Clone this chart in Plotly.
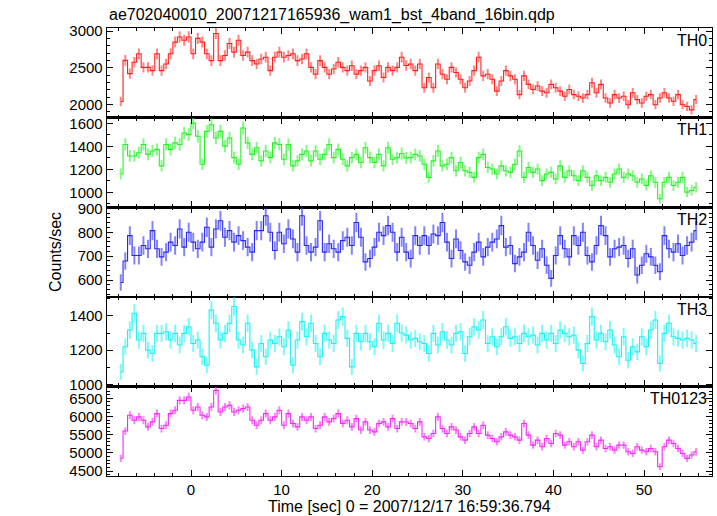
import numpy as np
import plotly.graph_objects as go

# ---- binning (0.5 s bins, time relative to 2007/12/17 16:59:36.794) ----
T_START = -7.75
BIN = 0.5

th0 = [2040, 2600, 2420, 2575, 2690, 2505, 2505, 2460, 2690, 2460,
       2550, 2690, 2850, 2920, 2875, 2920, 2690, 2900, 2850, 2690,
       2597, 2968, 2597, 2667, 2830, 2713, 2875, 2667, 2713, 2597,
       2550, 2620, 2644, 2460, 2644, 2713, 2644, 2667, 2690, 2597,
       2620, 2690, 2505, 2412, 2597, 2505, 2412, 2482, 2574, 2505,
       2460, 2528, 2412, 2460, 2505, 2320, 2460, 2528, 2366, 2505,
       2460, 2505, 2644, 2530,
       2550, 2460, 2550, 2227, 2366, 2227, 2550, 2412, 2343, 2505,
       2435, 2343, 2227, 2320, 2460, 2644, 2389, 2412, 2343, 2181,
       2320, 2460, 2389, 2343, 2134, 2389, 2273, 2204, 2250, 2181,
       2158, 2273, 2227, 2181, 2111, 2204, 2134, 2111, 2088, 2134,
       2296, 2158, 2273, 2088, 2019, 2134, 2088, 2111, 1996, 2158,
       2065, 2019, 2111, 2134, 1996, 2088, 2158, 2088, 2042, 2134,
       1996, 1972, 1926, 2065]

th1 = [1160, 1417, 1317, 1317, 1345, 1417, 1331, 1360, 1374, 1231,
       1417, 1374, 1431, 1417, 1517, 1503, 1603, 1489, 1245, 1531,
       1589, 1474, 1531, 1403, 1474, 1303, 1245, 1560, 1431, 1331,
       1388, 1274, 1360, 1303, 1431, 1417, 1288, 1417, 1231, 1274,
       1331, 1360, 1274, 1360, 1288, 1331, 1417, 1303, 1374, 1288,
       1231, 1303, 1331, 1260, 1388, 1303, 1260, 1331, 1231, 1388,
       1288, 1303, 1338, 1300,
       1303, 1331, 1317, 1245, 1131, 1274, 1360, 1231, 1245, 1303,
       1188, 1260, 1188, 1174, 1131, 1303, 1331, 1217, 1203, 1160,
       1231, 1188, 1174, 1245, 1360, 1131, 1217, 1174, 1203, 1102,
       1160, 1174, 1117, 1231, 1131, 1188, 1145, 1102, 1188, 1131,
       1060, 1145, 1102, 1131, 1088, 1160, 1203, 1131, 1160, 1145,
       1088, 1117, 1060, 1145, 1088, 945, 1088, 1131, 1060, 1088,
       1131, 1002, 1017, 1045]

th2 = [590, 680, 786, 703, 703, 745, 731, 807, 731, 697,
       717, 759, 745, 814, 738, 800, 759, 731, 759, 821,
       738, 814, 848, 779, 807, 759, 786, 765, 738, 717,
       807, 807, 869, 800, 724, 800, 752, 814, 772, 717,
       869, 745, 717, 738, 848, 717, 752, 731, 717, 765,
       779, 745, 841, 779, 676, 690, 738, 800, 786, 828,
       800, 717, 779, 717,
       690, 786, 745, 786, 745, 793, 786, 841, 759, 690,
       772, 724, 676, 662, 717, 759, 697, 738, 759, 772,
       828, 738, 745, 669, 697, 717, 800, 745, 683, 731,
       662, 607, 703, 786, 731, 697, 786, 745, 800, 703,
       676, 745, 828, 786, 697, 731, 738, 745, 690, 731,
       621, 662, 710, 697, 662, 635, 786, 731, 717, 752,
       703, 745, 759, 807]

th3 = [1073, 1220, 1318, 1416, 1259, 1298, 1200, 1180, 1298, 1298,
       1308, 1259, 1298, 1230, 1298, 1337, 1239, 1259, 1161, 1112,
       1435, 1357, 1259, 1298, 1357, 1455, 1259, 1230, 1357, 1200,
       1102, 1239, 1161, 1259, 1239, 1278, 1220, 1318, 1112, 1259,
       1367, 1278, 1357, 1239, 1161, 1298, 1259, 1239, 1376, 1396,
       1269, 1102, 1298, 1249, 1298, 1249, 1220, 1357, 1259, 1298,
       1239, 1357, 1300, 1288,
       1259, 1269, 1249, 1239, 1180, 1298, 1230, 1308, 1259, 1230,
       1298, 1308, 1180, 1278, 1337, 1318, 1376, 1239, 1278, 1220,
       1278, 1337, 1269, 1278, 1239, 1298, 1278, 1288, 1230, 1298,
       1259, 1298, 1239, 1318, 1298, 1278, 1288, 1200, 1122, 1239,
       1396, 1259, 1298, 1249, 1318, 1230, 1161, 1278, 1141, 1220,
       1190, 1278, 1220, 1318, 1376, 1122, 1298, 1357, 1278, 1269,
       1259, 1269, 1259, 1239]

th0123 = [4850, 5600, 6034, 5897, 5989, 5897, 5715, 5852, 6080, 5669,
          5760, 6080, 6171, 6445, 6445, 6536, 6171, 6263, 6034, 5989,
          6263, 6719, 6126, 6263, 6308, 6126, 6171, 6217, 6263, 5897,
          5760, 5897, 6080, 5897, 5989, 6171, 5760, 6080, 5806, 5715,
          5989, 5897, 5989, 5669, 5760, 5989, 5852, 5943, 6080, 5806,
          5897, 5715, 5943, 5627, 5852, 5627, 5578, 5806, 5852, 5715,
          5943, 5669, 5852, 5850,
          5806, 5669, 5852, 5441, 5395, 5532, 5989, 5669, 5532, 5715,
          5627, 5441, 5350, 5532, 5715, 5532, 5760, 5487, 5395, 5304,
          5441, 5578, 5487, 5441, 5350, 5806, 5487, 5213, 5350, 5167,
          5395, 5258, 5532, 5487, 5213, 5304, 5167, 5304, 5076, 5304,
          5487, 5167, 5350, 5121, 5167, 5076, 5213, 5213, 5030, 4984,
          5167, 5076, 5030, 5121, 5030, 4619, 5167, 5350, 5258, 5121,
          4984, 4848, 4939, 5030]

band_names = ["TH0", "TH1", "TH2", "TH3", "TH0123"]
band_data = [th0, th1, th2, th3, th0123]
line_colors = ["rgb(255,30,30)", "rgb(40,240,40)", "rgb(40,40,240)",
               "rgb(30,240,240)", "rgb(245,40,245)"]
err_colors = ["rgba(255,50,50,0.6)", "rgba(50,245,50,0.6)", "rgba(50,50,245,0.6)",
              "rgba(40,245,245,0.6)", "rgba(245,50,245,0.6)"]
y_ranges = [[1820, 3042], [871, 1651], [530, 905], [988, 1512], [4363, 6829]]
y_dticks = [500, 200, 100, 200, 500]
y_minor = [100, 100, 20, 100, 100]
x_range = [-9.27, 57.5]

FONT = "Liberation Sans, Arial, Helvetica, sans-serif"

fig = go.Figure()
n = len(band_data)
for k in range(n):
    v = np.array(band_data[k], dtype=float)
    t = T_START + BIN * np.arange(len(v))
    err = np.sqrt(v / BIN)
    ax = "" if k == 0 else str(k + 1)
    fig.add_trace(go.Scatter(
        x=t, y=v, mode="lines",
        line=dict(color=line_colors[k], width=1.1, shape="hvh"),
        error_y=dict(type="data", array=err, color=err_colors[k], thickness=2, width=0),
        xaxis="x" + ax, yaxis="y" + ax, showlegend=False, hoverinfo="skip"))

layout = dict(
    width=717, height=516,
    margin=dict(l=107, r=5, t=28, b=40),
    paper_bgcolor="white", plot_bgcolor="white",
    font=dict(family=FONT, size=15, color="black"),
    showlegend=False,
)
annotations = []
for k in range(n):
    ax = "" if k == 0 else str(k + 1)
    top = 1 - k / n
    bot = 1 - (k + 1) / n
    layout["xaxis" + ax] = dict(
        domain=[0, 1], anchor="y" + ax, range=x_range,
        tick0=0, dtick=10, ticks="inside", ticklen=6, tickwidth=1, tickcolor="black",
        minor=dict(dtick=2, ticks="inside", ticklen=3, tickcolor="black"),
        showline=True, linecolor="black", linewidth=1.3, mirror="allticks",
        showgrid=False, zeroline=False,
        showticklabels=(k == n - 1),
        tickfont=dict(size=15),
        matches=None if k == 0 else "x",
    )
    layout["yaxis" + ax] = dict(
        domain=[bot, top], anchor="x" + ax, range=y_ranges[k],
        tick0=0, dtick=y_dticks[k], ticks="inside", ticklen=6, tickwidth=1, tickcolor="black",
        minor=dict(dtick=y_minor[k], ticks="inside", ticklen=3, tickcolor="black"),
        showline=True, linecolor="black", linewidth=1.3, mirror="allticks",
        showgrid=False, zeroline=False, tickfont=dict(size=15),
    )
    annotations.append(dict(
        text=band_names[k], xref="paper", yref="paper", x=0.995, y=top - 0.004,
        xanchor="right", yanchor="top", showarrow=False, font=dict(size=16)))

annotations.append(dict(
    text="ae702040010_20071217165936_wam1_bst_4band_16bin.qdp",
    xref="paper", yref="paper", x=0.0, y=1.005, xanchor="left", yanchor="bottom",
    showarrow=False, font=dict(size=16)))
annotations.append(dict(
    text="Counts/sec", xref="paper", yref="paper", x=-0.086, y=0.5,
    xanchor="center", yanchor="middle", textangle=-90, showarrow=False,
    font=dict(size=16)))
annotations.append(dict(
    text="Time [sec] 0 = 2007/12/17 16:59:36.794", xref="paper", yref="paper",
    x=0.5, y=-0.069, xanchor="center", yanchor="middle", showarrow=False,
    font=dict(size=16)))
layout["annotations"] = annotations

fig.update_layout(**layout)
fig.write_html("out.html",
               config={"displayModeBar": False, "staticPlot": True},
               post_script="document.body.style.margin='0';document.body.style.padding='0';")
